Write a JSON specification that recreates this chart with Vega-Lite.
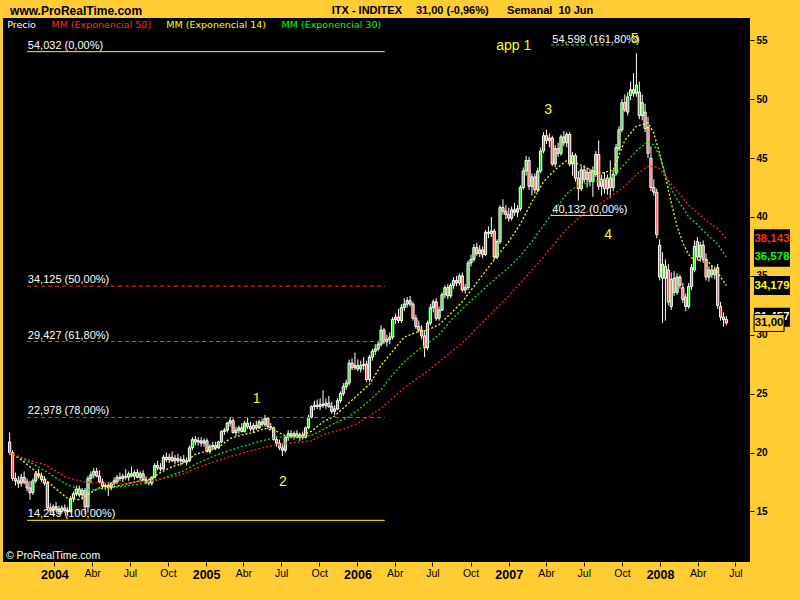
{
"$schema": "https://vega.github.io/schema/vega-lite/v6.json",
"width": 747, "height": 544,
"autosize": {"type": "none"},
"padding": {"left": 3, "top": 18, "right": 50, "bottom": 38},
"background": "#FFCC33",
"config": {"view": {"fill": "black", "stroke": null}, "font": "Liberation Sans"},
"datasets": {
"candles": [
{"d":"2003-09-15","o":20.9,"h":21.7,"l":19.8,"c":20.0},
{"d":"2003-09-22","o":20.0,"h":20.2,"l":17.6,"c":17.8},
{"d":"2003-09-29","o":17.8,"h":18.3,"l":17.2,"c":17.6},
{"d":"2003-10-06","o":17.6,"h":18.0,"l":17.0,"c":17.4},
{"d":"2003-10-13","o":17.4,"h":18.2,"l":17.1,"c":17.9},
{"d":"2003-10-20","o":17.9,"h":18.4,"l":17.3,"c":17.5},
{"d":"2003-10-27","o":17.5,"h":17.8,"l":16.7,"c":17.0},
{"d":"2003-11-03","o":17.0,"h":17.6,"l":16.0,"c":16.6},
{"d":"2003-11-10","o":16.6,"h":17.8,"l":16.4,"c":17.6},
{"d":"2003-11-17","o":17.6,"h":18.4,"l":17.4,"c":18.2},
{"d":"2003-11-24","o":18.2,"h":18.6,"l":17.8,"c":18.0},
{"d":"2003-12-01","o":18.0,"h":18.3,"l":17.5,"c":17.7},
{"d":"2003-12-08","o":17.7,"h":18.0,"l":17.2,"c":17.4},
{"d":"2003-12-15","o":17.4,"h":17.6,"l":15.1,"c":15.3},
{"d":"2003-12-22","o":15.3,"h":15.7,"l":14.9,"c":15.1},
{"d":"2003-12-29","o":15.1,"h":15.6,"l":14.8,"c":15.4},
{"d":"2004-01-05","o":15.4,"h":15.8,"l":15.0,"c":15.2},
{"d":"2004-01-12","o":15.2,"h":15.5,"l":14.7,"c":15.0},
{"d":"2004-01-19","o":15.0,"h":15.5,"l":14.8,"c":15.3},
{"d":"2004-01-26","o":15.3,"h":15.6,"l":14.9,"c":15.1},
{"d":"2004-02-02","o":15.1,"h":15.4,"l":14.6,"c":15.0},
{"d":"2004-02-09","o":15.0,"h":16.3,"l":14.9,"c":16.1},
{"d":"2004-02-16","o":16.1,"h":16.7,"l":15.8,"c":16.5},
{"d":"2004-02-23","o":16.5,"h":17.2,"l":16.3,"c":16.9},
{"d":"2004-03-01","o":16.9,"h":17.2,"l":16.2,"c":16.4},
{"d":"2004-03-08","o":16.4,"h":17.0,"l":16.0,"c":16.8},
{"d":"2004-03-15","o":16.8,"h":17.0,"l":14.8,"c":15.4},
{"d":"2004-03-22","o":15.4,"h":18.0,"l":14.9,"c":17.8},
{"d":"2004-03-29","o":17.8,"h":18.4,"l":17.4,"c":18.1},
{"d":"2004-04-05","o":18.1,"h":18.7,"l":17.8,"c":18.4},
{"d":"2004-04-12","o":18.4,"h":18.7,"l":17.9,"c":18.0},
{"d":"2004-04-19","o":18.0,"h":18.5,"l":17.4,"c":17.5},
{"d":"2004-04-26","o":17.5,"h":17.8,"l":16.9,"c":17.1},
{"d":"2004-05-03","o":17.1,"h":17.4,"l":16.8,"c":17.2},
{"d":"2004-05-10","o":17.2,"h":17.5,"l":16.3,"c":17.0},
{"d":"2004-05-17","o":17.0,"h":17.5,"l":16.8,"c":17.4},
{"d":"2004-05-24","o":17.4,"h":17.9,"l":17.2,"c":17.6},
{"d":"2004-05-31","o":17.5,"h":18.1,"l":17.3,"c":17.9},
{"d":"2004-06-07","o":17.9,"h":18.3,"l":17.6,"c":17.8},
{"d":"2004-06-14","o":17.8,"h":18.2,"l":17.5,"c":18.0},
{"d":"2004-06-21","o":18.0,"h":18.6,"l":17.7,"c":17.9},
{"d":"2004-06-28","o":17.9,"h":18.4,"l":17.6,"c":18.2},
{"d":"2004-07-05","o":18.2,"h":18.8,"l":17.9,"c":18.0},
{"d":"2004-07-12","o":18.0,"h":18.5,"l":17.7,"c":18.3},
{"d":"2004-07-19","o":18.3,"h":18.6,"l":17.8,"c":17.9},
{"d":"2004-07-26","o":17.9,"h":18.4,"l":17.6,"c":18.2},
{"d":"2004-08-02","o":18.2,"h":18.5,"l":17.6,"c":17.7},
{"d":"2004-08-09","o":17.7,"h":18.0,"l":17.3,"c":17.5},
{"d":"2004-08-16","o":17.5,"h":17.8,"l":17.2,"c":17.4},
{"d":"2004-08-23","o":17.4,"h":18.0,"l":17.2,"c":17.9},
{"d":"2004-08-30","o":17.9,"h":19.1,"l":17.8,"c":18.9},
{"d":"2004-09-06","o":18.9,"h":19.3,"l":18.5,"c":18.7},
{"d":"2004-09-13","o":18.7,"h":19.1,"l":18.4,"c":18.6},
{"d":"2004-09-20","o":18.6,"h":19.8,"l":18.5,"c":19.6},
{"d":"2004-09-27","o":19.6,"h":20.0,"l":19.2,"c":19.4},
{"d":"2004-10-04","o":19.4,"h":19.9,"l":19.1,"c":19.6},
{"d":"2004-10-11","o":19.6,"h":20.1,"l":19.2,"c":19.3},
{"d":"2004-10-18","o":19.3,"h":19.8,"l":19.0,"c":19.5},
{"d":"2004-10-25","o":19.5,"h":19.9,"l":19.1,"c":19.3},
{"d":"2004-11-01","o":19.3,"h":19.7,"l":18.9,"c":19.4},
{"d":"2004-11-08","o":19.4,"h":19.8,"l":19.1,"c":19.2},
{"d":"2004-11-15","o":19.2,"h":19.6,"l":18.9,"c":19.3},
{"d":"2004-11-22","o":19.3,"h":20.6,"l":19.2,"c":20.4},
{"d":"2004-11-29","o":20.4,"h":21.3,"l":20.2,"c":21.1},
{"d":"2004-12-06","o":21.1,"h":21.4,"l":20.6,"c":20.9},
{"d":"2004-12-13","o":20.9,"h":21.3,"l":20.6,"c":21.0},
{"d":"2004-12-20","o":21.0,"h":21.3,"l":20.5,"c":20.8},
{"d":"2004-12-27","o":20.8,"h":21.2,"l":20.5,"c":21.0},
{"d":"2005-01-03","o":21.0,"h":21.2,"l":20.0,"c":20.1},
{"d":"2005-01-10","o":20.1,"h":20.7,"l":19.9,"c":20.5},
{"d":"2005-01-17","o":20.5,"h":20.9,"l":20.2,"c":20.6},
{"d":"2005-01-24","o":20.6,"h":20.9,"l":20.2,"c":20.4},
{"d":"2005-01-31","o":20.4,"h":21.0,"l":20.3,"c":20.9},
{"d":"2005-02-07","o":20.9,"h":21.9,"l":20.8,"c":21.8},
{"d":"2005-02-14","o":21.8,"h":22.1,"l":21.5,"c":21.9},
{"d":"2005-02-21","o":21.9,"h":22.6,"l":21.7,"c":22.5},
{"d":"2005-02-28","o":22.5,"h":23.0,"l":22.2,"c":22.7},
{"d":"2005-03-07","o":22.7,"h":22.9,"l":21.6,"c":21.7},
{"d":"2005-03-14","o":21.7,"h":22.2,"l":21.4,"c":21.9},
{"d":"2005-03-21","o":21.9,"h":22.3,"l":21.6,"c":22.1},
{"d":"2005-03-28","o":22.1,"h":22.5,"l":21.7,"c":21.8},
{"d":"2005-04-04","o":21.8,"h":22.7,"l":21.7,"c":22.5},
{"d":"2005-04-11","o":22.5,"h":23.0,"l":22.0,"c":22.2},
{"d":"2005-04-18","o":22.2,"h":22.6,"l":21.8,"c":22.0},
{"d":"2005-04-25","o":22.0,"h":22.5,"l":21.7,"c":22.3},
{"d":"2005-05-02","o":22.3,"h":22.7,"l":21.9,"c":22.1},
{"d":"2005-05-09","o":22.1,"h":22.8,"l":22.0,"c":22.6},
{"d":"2005-05-16","o":22.6,"h":22.9,"l":22.2,"c":22.4},
{"d":"2005-05-23","o":22.4,"h":23.2,"l":22.2,"c":22.9},
{"d":"2005-05-30","o":22.9,"h":23.0,"l":22.0,"c":22.2},
{"d":"2005-06-06","o":22.2,"h":22.5,"l":21.9,"c":22.1},
{"d":"2005-06-13","o":22.1,"h":22.2,"l":21.0,"c":21.1},
{"d":"2005-06-20","o":21.1,"h":21.4,"l":20.5,"c":20.8},
{"d":"2005-06-27","o":20.8,"h":21.1,"l":20.2,"c":20.4},
{"d":"2005-07-04","o":20.4,"h":20.8,"l":19.7,"c":20.2},
{"d":"2005-07-11","o":20.2,"h":21.4,"l":20.0,"c":21.3},
{"d":"2005-07-18","o":21.3,"h":21.9,"l":21.0,"c":21.6},
{"d":"2005-07-25","o":21.6,"h":21.9,"l":21.2,"c":21.4},
{"d":"2005-08-01","o":21.4,"h":21.8,"l":21.1,"c":21.6},
{"d":"2005-08-08","o":21.6,"h":21.9,"l":21.2,"c":21.3},
{"d":"2005-08-15","o":21.3,"h":21.7,"l":21.0,"c":21.5},
{"d":"2005-08-22","o":21.5,"h":21.8,"l":21.1,"c":21.3},
{"d":"2005-08-29","o":21.3,"h":22.2,"l":21.2,"c":22.1},
{"d":"2005-09-05","o":22.1,"h":23.2,"l":22.0,"c":23.0},
{"d":"2005-09-12","o":23.0,"h":24.0,"l":22.9,"c":23.9},
{"d":"2005-09-19","o":23.9,"h":24.4,"l":23.6,"c":24.0},
{"d":"2005-09-26","o":24.0,"h":24.5,"l":23.7,"c":23.9},
{"d":"2005-10-03","o":23.9,"h":24.6,"l":23.6,"c":24.1},
{"d":"2005-10-10","o":24.1,"h":25.3,"l":23.8,"c":24.0},
{"d":"2005-10-17","o":24.0,"h":24.6,"l":23.7,"c":24.2},
{"d":"2005-10-24","o":24.2,"h":24.8,"l":23.8,"c":23.9},
{"d":"2005-10-31","o":23.9,"h":24.3,"l":23.3,"c":23.5},
{"d":"2005-11-07","o":23.5,"h":24.0,"l":23.2,"c":23.7},
{"d":"2005-11-14","o":23.7,"h":24.6,"l":23.6,"c":24.4},
{"d":"2005-11-21","o":24.4,"h":25.2,"l":24.2,"c":25.0},
{"d":"2005-11-28","o":25.0,"h":25.9,"l":24.8,"c":25.6},
{"d":"2005-12-05","o":25.6,"h":26.2,"l":25.3,"c":25.9},
{"d":"2005-12-12","o":25.9,"h":27.9,"l":25.7,"c":27.6},
{"d":"2005-12-19","o":27.6,"h":28.0,"l":27.0,"c":27.2},
{"d":"2005-12-26","o":27.2,"h":28.5,"l":27.0,"c":27.4},
{"d":"2006-01-02","o":27.4,"h":27.9,"l":26.9,"c":27.1},
{"d":"2006-01-09","o":27.1,"h":27.8,"l":26.8,"c":27.4},
{"d":"2006-01-16","o":27.4,"h":28.1,"l":27.0,"c":27.5},
{"d":"2006-01-23","o":27.5,"h":27.8,"l":26.0,"c":26.2},
{"d":"2006-01-30","o":26.2,"h":28.3,"l":26.0,"c":28.1},
{"d":"2006-02-06","o":28.1,"h":28.8,"l":27.8,"c":28.6},
{"d":"2006-02-13","o":28.6,"h":29.2,"l":28.3,"c":28.8},
{"d":"2006-02-20","o":28.8,"h":29.5,"l":28.6,"c":29.2},
{"d":"2006-02-27","o":29.2,"h":30.8,"l":29.0,"c":30.4},
{"d":"2006-03-06","o":30.4,"h":30.6,"l":29.2,"c":29.4},
{"d":"2006-03-13","o":29.4,"h":30.0,"l":29.0,"c":29.6},
{"d":"2006-03-20","o":29.6,"h":30.2,"l":29.2,"c":29.8},
{"d":"2006-03-27","o":29.8,"h":31.5,"l":29.6,"c":31.3},
{"d":"2006-04-03","o":31.3,"h":31.8,"l":30.9,"c":31.5},
{"d":"2006-04-10","o":31.5,"h":32.2,"l":31.0,"c":31.2},
{"d":"2006-04-17","o":31.2,"h":32.6,"l":31.0,"c":32.3},
{"d":"2006-04-24","o":32.3,"h":33.1,"l":32.0,"c":32.6},
{"d":"2006-05-01","o":32.6,"h":33.2,"l":32.3,"c":32.9},
{"d":"2006-05-08","o":32.9,"h":33.3,"l":32.4,"c":32.6},
{"d":"2006-05-15","o":32.6,"h":32.8,"l":31.2,"c":31.4},
{"d":"2006-05-22","o":31.4,"h":31.7,"l":30.5,"c":30.7},
{"d":"2006-05-29","o":30.7,"h":31.2,"l":30.2,"c":30.4},
{"d":"2006-06-05","o":30.4,"h":30.8,"l":29.6,"c":29.9},
{"d":"2006-06-12","o":29.9,"h":30.3,"l":28.1,"c":28.9},
{"d":"2006-06-19","o":28.9,"h":31.2,"l":28.7,"c":31.0},
{"d":"2006-06-26","o":31.0,"h":32.6,"l":30.8,"c":32.3},
{"d":"2006-07-03","o":32.3,"h":33.0,"l":31.9,"c":32.8},
{"d":"2006-07-10","o":32.8,"h":33.1,"l":31.2,"c":31.4},
{"d":"2006-07-17","o":31.4,"h":32.4,"l":31.2,"c":32.1},
{"d":"2006-07-24","o":32.1,"h":33.6,"l":32.0,"c":33.4},
{"d":"2006-07-31","o":33.4,"h":34.2,"l":33.1,"c":34.0},
{"d":"2006-08-07","o":34.0,"h":34.3,"l":33.0,"c":33.3},
{"d":"2006-08-14","o":33.3,"h":34.4,"l":33.1,"c":34.2},
{"d":"2006-08-21","o":34.2,"h":34.9,"l":33.9,"c":34.6},
{"d":"2006-08-28","o":34.6,"h":35.0,"l":34.1,"c":34.4},
{"d":"2006-09-04","o":34.4,"h":35.2,"l":34.2,"c":35.0},
{"d":"2006-09-11","o":35.0,"h":35.3,"l":33.6,"c":33.8},
{"d":"2006-09-18","o":33.8,"h":34.3,"l":33.5,"c":34.0},
{"d":"2006-09-25","o":34.0,"h":36.3,"l":33.8,"c":36.1},
{"d":"2006-10-02","o":36.1,"h":36.8,"l":35.8,"c":36.4},
{"d":"2006-10-09","o":36.4,"h":37.7,"l":36.2,"c":37.4},
{"d":"2006-10-16","o":37.4,"h":37.8,"l":36.7,"c":36.9},
{"d":"2006-10-23","o":36.9,"h":37.6,"l":36.6,"c":37.2},
{"d":"2006-10-30","o":37.2,"h":37.5,"l":36.5,"c":36.8},
{"d":"2006-11-06","o":36.8,"h":38.9,"l":36.7,"c":38.7},
{"d":"2006-11-13","o":38.7,"h":39.2,"l":38.2,"c":38.6},
{"d":"2006-11-20","o":38.6,"h":40.0,"l":38.3,"c":38.8},
{"d":"2006-11-27","o":38.8,"h":39.0,"l":36.4,"c":36.6},
{"d":"2006-12-04","o":36.6,"h":38.1,"l":36.4,"c":37.9},
{"d":"2006-12-11","o":37.9,"h":41.0,"l":37.7,"c":40.8},
{"d":"2006-12-18","o":40.8,"h":41.5,"l":40.2,"c":40.5},
{"d":"2006-12-25","o":40.5,"h":41.0,"l":39.8,"c":40.2},
{"d":"2007-01-01","o":40.2,"h":40.8,"l":39.6,"c":39.9},
{"d":"2007-01-08","o":39.9,"h":40.9,"l":39.7,"c":40.6},
{"d":"2007-01-15","o":40.6,"h":41.2,"l":40.1,"c":40.4},
{"d":"2007-01-22","o":40.4,"h":41.0,"l":40.0,"c":40.7},
{"d":"2007-01-29","o":40.7,"h":42.7,"l":40.5,"c":42.5},
{"d":"2007-02-05","o":42.5,"h":44.2,"l":42.3,"c":43.9},
{"d":"2007-02-12","o":43.9,"h":45.2,"l":43.5,"c":44.8},
{"d":"2007-02-19","o":44.8,"h":45.1,"l":42.3,"c":42.6},
{"d":"2007-02-26","o":42.6,"h":43.7,"l":41.8,"c":43.4},
{"d":"2007-03-05","o":43.4,"h":43.7,"l":42.0,"c":42.3},
{"d":"2007-03-12","o":42.3,"h":44.2,"l":42.1,"c":43.9},
{"d":"2007-03-19","o":43.9,"h":45.9,"l":43.7,"c":45.6},
{"d":"2007-03-26","o":45.6,"h":47.2,"l":45.4,"c":46.9},
{"d":"2007-04-02","o":46.9,"h":47.4,"l":46.2,"c":46.5},
{"d":"2007-04-09","o":46.5,"h":47.1,"l":45.9,"c":46.7},
{"d":"2007-04-16","o":46.7,"h":46.9,"l":44.3,"c":44.5},
{"d":"2007-04-23","o":44.5,"h":46.1,"l":44.2,"c":45.8},
{"d":"2007-04-30","o":45.8,"h":46.3,"l":45.1,"c":45.4},
{"d":"2007-05-07","o":45.4,"h":47.0,"l":45.2,"c":46.8},
{"d":"2007-05-14","o":46.8,"h":47.3,"l":46.0,"c":46.3},
{"d":"2007-05-21","o":46.3,"h":47.2,"l":45.9,"c":47.0},
{"d":"2007-05-28","o":47.0,"h":47.2,"l":44.3,"c":44.5},
{"d":"2007-06-04","o":44.5,"h":45.5,"l":43.5,"c":45.2},
{"d":"2007-06-11","o":45.2,"h":45.4,"l":43.0,"c":43.3},
{"d":"2007-06-18","o":43.3,"h":43.9,"l":41.4,"c":42.4},
{"d":"2007-06-25","o":42.4,"h":44.3,"l":42.2,"c":44.0},
{"d":"2007-07-02","o":44.0,"h":44.4,"l":42.9,"c":43.2},
{"d":"2007-07-09","o":43.2,"h":44.2,"l":42.5,"c":43.8},
{"d":"2007-07-16","o":43.8,"h":44.1,"l":42.6,"c":43.0},
{"d":"2007-07-23","o":43.0,"h":44.3,"l":41.7,"c":43.9},
{"d":"2007-07-30","o":43.6,"h":45.6,"l":43.4,"c":45.3},
{"d":"2007-08-06","o":45.3,"h":46.5,"l":42.3,"c":42.6},
{"d":"2007-08-13","o":42.6,"h":43.6,"l":41.8,"c":43.2},
{"d":"2007-08-20","o":43.2,"h":43.8,"l":42.0,"c":42.4},
{"d":"2007-08-27","o":42.4,"h":43.6,"l":41.9,"c":43.3},
{"d":"2007-09-03","o":43.3,"h":44.8,"l":41.6,"c":42.5},
{"d":"2007-09-10","o":42.5,"h":44.0,"l":42.2,"c":43.6},
{"d":"2007-09-17","o":43.7,"h":46.2,"l":43.5,"c":45.9},
{"d":"2007-09-24","o":45.8,"h":47.7,"l":45.6,"c":47.4},
{"d":"2007-10-01","o":47.4,"h":50.0,"l":47.2,"c":49.7},
{"d":"2007-10-08","o":49.7,"h":50.4,"l":48.9,"c":49.1},
{"d":"2007-10-15","o":48.9,"h":50.6,"l":48.6,"c":50.2},
{"d":"2007-10-22","o":50.3,"h":51.5,"l":49.9,"c":50.8},
{"d":"2007-10-29","o":50.8,"h":52.2,"l":50.2,"c":50.5},
{"d":"2007-11-05","o":50.5,"h":53.9,"l":50.2,"c":51.2},
{"d":"2007-11-12","o":50.6,"h":51.5,"l":48.3,"c":48.6},
{"d":"2007-11-19","o":48.6,"h":50.4,"l":48.2,"c":49.7},
{"d":"2007-11-26","o":48.9,"h":49.6,"l":47.2,"c":47.5},
{"d":"2007-12-03","o":47.6,"h":48.5,"l":45.0,"c":45.4},
{"d":"2007-12-10","o":45.0,"h":46.0,"l":42.2,"c":42.5},
{"d":"2007-12-17","o":42.5,"h":43.2,"l":41.8,"c":42.1},
{"d":"2007-12-24","o":42.1,"h":42.4,"l":38.2,"c":38.5},
{"d":"2007-12-31","o":37.6,"h":38.1,"l":34.6,"c":34.9},
{"d":"2008-01-07","o":34.8,"h":37.0,"l":31.0,"c":36.0},
{"d":"2008-01-14","o":35.8,"h":36.4,"l":31.2,"c":34.8},
{"d":"2008-01-21","o":35.5,"h":36.0,"l":32.5,"c":32.8},
{"d":"2008-01-28","o":32.4,"h":35.3,"l":32.1,"c":34.7},
{"d":"2008-02-04","o":34.8,"h":35.4,"l":33.3,"c":33.6},
{"d":"2008-02-11","o":33.6,"h":35.2,"l":33.4,"c":34.9},
{"d":"2008-02-18","o":34.9,"h":35.1,"l":33.9,"c":34.2},
{"d":"2008-02-25","o":34.0,"h":34.4,"l":32.7,"c":33.0},
{"d":"2008-03-03","o":33.2,"h":33.5,"l":32.0,"c":32.4},
{"d":"2008-03-10","o":32.4,"h":34.4,"l":32.2,"c":34.1},
{"d":"2008-03-17","o":34.1,"h":36.0,"l":33.8,"c":35.7},
{"d":"2008-03-24","o":35.5,"h":38.0,"l":35.3,"c":37.5},
{"d":"2008-03-31","o":37.9,"h":38.3,"l":36.3,"c":36.6},
{"d":"2008-04-07","o":36.6,"h":37.9,"l":36.2,"c":37.6},
{"d":"2008-04-14","o":37.6,"h":38.0,"l":36.1,"c":36.4},
{"d":"2008-04-21","o":36.4,"h":36.9,"l":34.6,"c":34.9},
{"d":"2008-04-28","o":34.9,"h":35.8,"l":34.5,"c":35.5},
{"d":"2008-05-05","o":35.5,"h":35.9,"l":34.8,"c":35.1},
{"d":"2008-05-12","o":35.1,"h":35.8,"l":34.7,"c":35.5},
{"d":"2008-05-19","o":35.7,"h":36.0,"l":32.2,"c":32.5},
{"d":"2008-05-26","o":32.4,"h":32.8,"l":31.2,"c":31.5},
{"d":"2008-06-02","o":31.5,"h":31.9,"l":30.7,"c":31.3},
{"d":"2008-06-09","o":31.3,"h":31.6,"l":30.8,"c":31.0}
],
"ema": [
{"d":"2003-09-15","e14":20.0,"e30":20.0,"e50":20.0},
{"d":"2003-10-13","e14":19.4,"e30":19.5,"e50":19.6},
{"d":"2003-11-10","e14":18.6,"e30":19.05,"e50":19.25},
{"d":"2003-12-08","e14":17.8,"e30":18.5,"e50":19.0},
{"d":"2004-01-05","e14":16.9,"e30":17.85,"e50":18.4},
{"d":"2004-02-02","e14":16.1,"e30":17.25,"e50":17.85},
{"d":"2004-03-01","e14":16.0,"e30":16.9,"e50":17.6},
{"d":"2004-03-29","e14":16.6,"e30":16.8,"e50":17.45},
{"d":"2004-04-26","e14":17.15,"e30":16.95,"e50":17.4},
{"d":"2004-05-24","e14":17.1,"e30":17.05,"e50":17.4},
{"d":"2004-06-21","e14":17.3,"e30":17.15,"e50":17.4},
{"d":"2004-07-19","e14":17.55,"e30":17.3,"e50":17.5},
{"d":"2004-08-16","e14":17.7,"e30":17.45,"e50":17.55},
{"d":"2004-09-13","e14":18.3,"e30":17.75,"e50":17.75},
{"d":"2004-10-11","e14":18.8,"e30":18.1,"e50":17.95},
{"d":"2004-11-08","e14":19.1,"e30":18.45,"e50":18.2},
{"d":"2004-12-06","e14":19.85,"e30":19.0,"e50":18.65},
{"d":"2005-01-03","e14":20.15,"e30":19.45,"e50":19.0},
{"d":"2005-01-31","e14":20.45,"e30":19.85,"e50":19.35},
{"d":"2005-02-28","e14":21.2,"e30":20.2,"e50":19.65},
{"d":"2005-03-28","e14":21.5,"e30":20.5,"e50":19.95},
{"d":"2005-04-25","e14":21.7,"e30":20.8,"e50":20.2},
{"d":"2005-05-23","e14":22.05,"e30":21.05,"e50":20.45},
{"d":"2005-06-20","e14":21.8,"e30":21.3,"e50":20.65},
{"d":"2005-07-18","e14":21.3,"e30":21.35,"e50":20.8},
{"d":"2005-08-15","e14":21.4,"e30":21.35,"e50":20.9},
{"d":"2005-09-12","e14":21.8,"e30":21.45,"e50":21.0},
{"d":"2005-10-10","e14":22.6,"e30":21.95,"e50":21.5},
{"d":"2005-11-07","e14":23.1,"e30":22.5,"e50":21.8},
{"d":"2005-12-05","e14":24.0,"e30":22.9,"e50":22.05},
{"d":"2006-01-02","e14":24.9,"e30":23.6,"e50":22.5},
{"d":"2006-01-30","e14":25.8,"e30":24.4,"e50":23.1},
{"d":"2006-02-27","e14":27.4,"e30":25.35,"e50":23.75},
{"d":"2006-03-27","e14":28.6,"e30":26.6,"e50":24.6},
{"d":"2006-04-24","e14":29.8,"e30":27.7,"e50":25.5},
{"d":"2006-05-22","e14":30.2,"e30":28.55,"e50":26.2},
{"d":"2006-06-19","e14":30.4,"e30":29.25,"e50":26.9},
{"d":"2006-07-17","e14":30.85,"e30":30.0,"e50":27.7},
{"d":"2006-08-14","e14":31.8,"e30":31.2,"e50":28.5},
{"d":"2006-09-11","e14":32.8,"e30":32.2,"e50":29.3},
{"d":"2006-10-09","e14":34.1,"e30":33.1,"e50":30.3},
{"d":"2006-11-06","e14":35.4,"e30":34.0,"e50":31.3},
{"d":"2006-12-04","e14":36.7,"e30":34.9,"e50":32.3},
{"d":"2007-01-01","e14":37.9,"e30":35.7,"e50":33.3},
{"d":"2007-01-29","e14":39.4,"e30":36.7,"e50":34.4},
{"d":"2007-02-26","e14":41.3,"e30":37.9,"e50":35.5},
{"d":"2007-03-26","e14":43.0,"e30":39.3,"e50":36.6},
{"d":"2007-04-23","e14":44.0,"e30":40.6,"e50":37.8},
{"d":"2007-05-21","e14":44.8,"e30":42.0,"e50":39.0},
{"d":"2007-06-18","e14":44.5,"e30":42.7,"e50":39.9},
{"d":"2007-07-16","e14":44.0,"e30":42.9,"e50":40.6},
{"d":"2007-08-13","e14":43.7,"e30":43.1,"e50":41.2},
{"d":"2007-09-10","e14":44.0,"e30":43.4,"e50":41.9},
{"d":"2007-10-08","e14":46.5,"e30":44.5,"e50":42.6},
{"d":"2007-11-05","e14":47.7,"e30":45.6,"e50":43.6},
{"d":"2007-12-03","e14":48.0,"e30":46.4,"e50":44.3},
{"d":"2007-12-17","e14":47.1,"e30":46.1,"e50":44.3},
{"d":"2007-12-31","e14":45.4,"e30":45.2,"e50":44.1},
{"d":"2008-01-14","e14":43.4,"e30":43.6,"e50":43.4},
{"d":"2008-01-28","e14":41.2,"e30":42.4,"e50":42.8},
{"d":"2008-02-11","e14":39.2,"e30":41.5,"e50":42.2},
{"d":"2008-02-25","e14":37.8,"e30":40.8,"e50":41.6},
{"d":"2008-03-10","e14":36.8,"e30":40.0,"e50":41.0},
{"d":"2008-03-24","e14":36.3,"e30":39.6,"e50":40.6},
{"d":"2008-04-21","e14":36.4,"e30":38.6,"e50":39.7},
{"d":"2008-05-19","e14":35.3,"e30":37.7,"e50":39.0},
{"d":"2008-06-09","e14":34.179,"e30":36.578,"e50":38.143}
],
"fib": [
{"v":54.032,"t":"54,032 (0,00%)","g":"end"},
{"v":34.125,"t":"34,125 (50,00%)","g":"mid"},
{"v":29.427,"t":"29,427 (61,80%)","g":"mid"},
{"v":22.978,"t":"22,978 (78,00%)","g":"mid"},
{"v":14.249,"t":"14,249 (100,00%)","g":"end"}
],
"fib2": [
{"v":40.132,"t":"40,132 (0,00%)","g":"base"},
{"v":54.598,"t":"54,598 (161,80%)","g":"ext"}
],
"waves": [
{"d":"2005-05-03","v":24.21,"t":"1"},
{"d":"2005-07-05","v":17.17,"t":"2"},
{"d":"2007-04-06","v":48.74,"t":"3"},
{"d":"2007-08-29","v":38.13,"t":"4"},
{"d":"2007-11-01","v":54.77,"t":"5"},
{"d":"2007-01-13","v":54.18,"t":"app 1"}
],
"tags": [
{"v":38.143,"t":"38,143","k":"e50"},
{"v":36.578,"t":"36,578","k":"e30"},
{"v":34.179,"t":"34,179","k":"e14"},
{"v":31.49,"t":"31,457","k":"otro"}
]
},
"layer": [
{"data": {"name": "candles"},
 "mark": {"type": "rule", "color": "white", "strokeWidth": 1},
 "encoding": {
  "x": {"field": "d", "type": "temporal",
   "scale": {"domain": [{"year": 2003, "month": 8, "date": 30}, {"year": 2008, "month": 8, "date": 5}], "padding": 0},
   "axis": {"orient": "bottom", "title": null, "grid": false, "domain": false,
    "values": [{"year":2004,"month":1,"date":1},{"year":2004,"month":4,"date":1},{"year":2004,"month":7,"date":1},{"year":2004,"month":10,"date":1},
               {"year":2005,"month":1,"date":1},{"year":2005,"month":4,"date":1},{"year":2005,"month":7,"date":1},{"year":2005,"month":10,"date":1},
               {"year":2006,"month":1,"date":1},{"year":2006,"month":4,"date":1},{"year":2006,"month":7,"date":1},{"year":2006,"month":10,"date":1},
               {"year":2007,"month":1,"date":1},{"year":2007,"month":4,"date":1},{"year":2007,"month":7,"date":1},{"year":2007,"month":10,"date":1},
               {"year":2008,"month":1,"date":1},{"year":2008,"month":4,"date":1},{"year":2008,"month":7,"date":1}],
    "labelExpr": "month(datum.value) == 0 ? timeFormat(datum.value, '%Y') : (month(datum.value) == 3 ? 'Abr' : (month(datum.value) == 6 ? 'Jul' : 'Oct'))",
    "labelFontWeight": {"condition": {"test": "month(datum.value) == 0", "value": "bold"}, "value": "normal"},
    "labelFontSize": {"condition": {"test": "month(datum.value) == 0", "value": 12.5}, "value": 10.5},
    "labelColor": "black", "tickColor": "black", "tickSize": 4, "labelPadding": 2,
    "labelOverlap": false, "labelFlush": false, "labelFont": "Liberation Sans"}},
  "y": {"field": "l", "type": "quantitative",
   "scale": {"domain": [10.71, 56.89], "zero": false, "nice": false, "padding": 0},
   "axis": {"orient": "right", "title": null, "grid": false, "domain": false,
    "values": [15, 20, 25, 30, 35, 40, 45, 50, 55],
    "labelColor": "black", "tickColor": "black", "tickSize": 4, "labelPadding": 2,
    "labelFontWeight": "bold", "labelFontSize": 10, "labelFont": "Liberation Sans"}},
  "y2": {"field": "h"}
 }},
{"data": {"name": "candles"},
 "mark": {"type": "bar", "size": 2.2, "stroke": "white", "strokeWidth": 1, "opacity": 1},
 "encoding": {
  "x": {"field": "d", "type": "temporal"},
  "y": {"field": "o", "type": "quantitative"},
  "y2": {"field": "c"},
  "fill": {"condition": {"test": "datum.c >= datum.o", "value": "#22dd22"}, "value": "#ff5555"}
 }},
{"data": {"name": "ema"},
 "transform": [{"fold": ["e14", "e30", "e50"], "as": ["k", "v"]}],
 "mark": {"type": "line", "strokeWidth": 1.3, "strokeDash": [2, 2]},
 "encoding": {
  "x": {"field": "d", "type": "temporal"},
  "y": {"field": "v", "type": "quantitative"},
  "color": {"field": "k", "type": "nominal", "legend": null,
   "scale": {"domain": ["e14", "e30", "e50"], "range": ["#ffff00", "#00ee00", "#ff2a00"]}}
 }},
{"data": {"name": "fib"},
 "transform": [{"filter": "datum.g == 'end'"}],
 "mark": {"type": "rule", "color": "#ffff00", "strokeWidth": 1},
 "encoding": {
  "x": {"datum": {"year": 2003, "month": 10, "date": 27}, "type": "temporal"},
  "x2": {"datum": {"year": 2006, "month": 3, "date": 8}},
  "y": {"field": "v", "type": "quantitative"}
 }},
{"data": {"name": "fib"},
 "transform": [{"filter": "datum.g == 'mid'"}],
 "mark": {"type": "rule", "color": "#ff3030", "strokeWidth": 1, "strokeDash": [4, 3]},
 "encoding": {
  "x": {"datum": {"year": 2003, "month": 10, "date": 27}, "type": "temporal"},
  "x2": {"datum": {"year": 2006, "month": 3, "date": 8}},
  "y": {"field": "v", "type": "quantitative"}
 }},
{"data": {"name": "fib"},
 "mark": {"type": "text", "color": "white", "fontSize": 11, "align": "left", "baseline": "alphabetic", "dy": -3},
 "encoding": {
  "x": {"datum": {"year": 2003, "month": 10, "date": 29}, "type": "temporal"},
  "y": {"field": "v", "type": "quantitative"},
  "text": {"field": "t"}
 }},
{"data": {"name": "fib2"},
 "transform": [{"filter": "datum.g == 'base'"}],
 "mark": {"type": "rule", "color": "#ffff00", "strokeWidth": 1},
 "encoding": {
  "x": {"datum": {"year": 2007, "month": 4, "date": 13}, "type": "temporal"},
  "x2": {"datum": {"year": 2007, "month": 9, "date": 9}},
  "y": {"field": "v", "type": "quantitative"}
 }},
{"data": {"name": "fib2"},
 "transform": [{"filter": "datum.g == 'ext'"}],
 "mark": {"type": "rule", "color": "#55dd55", "strokeWidth": 1, "strokeDash": [3, 2]},
 "encoding": {
  "x": {"datum": {"year": 2007, "month": 4, "date": 13}, "type": "temporal"},
  "x2": {"datum": {"year": 2007, "month": 9, "date": 8}},
  "y": {"field": "v", "type": "quantitative"}
 }},
{"data": {"name": "fib2"},
 "mark": {"type": "text", "color": "white", "fontSize": 11, "align": "left", "baseline": "alphabetic", "dy": -2},
 "encoding": {
  "x": {"datum": {"year": 2007, "month": 4, "date": 16}, "type": "temporal"},
  "y": {"field": "v", "type": "quantitative"},
  "text": {"field": "t"}
 }},
{"data": {"name": "waves"},
 "mark": {"type": "text", "color": "#ffff00", "fontSize": 14, "align": "center", "baseline": "alphabetic"},
 "encoding": {
  "x": {"field": "d", "type": "temporal"},
  "y": {"field": "v", "type": "quantitative"},
  "text": {"field": "t"}
 }},
{"data": {"name": "tags"},
 "mark": {"type": "tick", "orient": "horizontal", "size": 36, "thickness": 19, "color": "black", "opacity": 1},
 "encoding": {
  "x": {"datum": {"year": 2008, "month": 9, "date": 27}, "type": "temporal"},
  "y": {"field": "v", "type": "quantitative"}
 }},
{"data": {"name": "tags"},
 "mark": {"type": "text", "fontSize": 11.5, "fontWeight": "bold", "align": "center", "baseline": "middle"},
 "encoding": {
  "x": {"datum": {"year": 2008, "month": 9, "date": 27}, "type": "temporal"},
  "y": {"field": "v", "type": "quantitative"},
  "text": {"field": "t"},
  "fill": {"field": "k", "type": "nominal", "legend": null,
   "scale": {"domain": ["e50", "e30", "e14", "otro"], "range": ["#ff3300", "#00ff00", "#ffff00", "#ffffff"]}}
 }},
{"data": {"values": [{"v": 31.0, "t": "31,00"}]},
 "mark": {"type": "tick", "orient": "horizontal", "size": 30, "thickness": 17, "color": "#ffcc33", "stroke": "black", "strokeWidth": 1, "opacity": 1},
 "encoding": {
  "x": {"datum": {"year": 2008, "month": 9, "date": 20}, "type": "temporal"},
  "y": {"field": "v", "type": "quantitative"}
 }},
{"data": {"values": [{"v": 31.0, "t": "31,00"}]},
 "mark": {"type": "text", "fontSize": 11.5, "fontWeight": "bold", "align": "center", "baseline": "middle", "color": "black"},
 "encoding": {
  "x": {"datum": {"year": 2008, "month": 9, "date": 20}, "type": "temporal"},
  "y": {"field": "v", "type": "quantitative"},
  "text": {"field": "t"}
 }},
{"data": {"values": [{"t": "www.ProRealTime.com"}]},
 "mark": {"type": "text", "fontSize": 12, "fontWeight": "bold", "align": "left", "baseline": "alphabetic", "color": "black"},
 "encoding": {
  "x": {"datum": {"year": 2003, "month": 9, "date": 16}, "type": "temporal"},
  "y": {"datum": 57.15, "type": "quantitative"},
  "text": {"field": "t"}
 }},
{"data": {"values": [{"t": "ITX - INDITEX"}]},
 "mark": {"type": "text", "fontSize": 11, "fontWeight": "bold", "align": "left", "baseline": "alphabetic", "color": "black"},
 "encoding": {
  "x": {"datum": {"year": 2005, "month": 10, "date": 31}, "type": "temporal"},
  "y": {"datum": 57.27, "type": "quantitative"},
  "text": {"field": "t"}
 }},
{"data": {"values": [{"t": "31,00 (-0,96%)"}]},
 "mark": {"type": "text", "fontSize": 11, "fontWeight": "bold", "align": "left", "baseline": "alphabetic", "color": "black"},
 "encoding": {
  "x": {"datum": {"year": 2006, "month": 5, "date": 22}, "type": "temporal"},
  "y": {"datum": 57.27, "type": "quantitative"},
  "text": {"field": "t"}
 }},
{"data": {"values": [{"t": "Semanal\u00a0 10 Jun"}]},
 "mark": {"type": "text", "fontSize": 11, "fontWeight": "bold", "align": "left", "baseline": "alphabetic", "color": "black"},
 "encoding": {
  "x": {"datum": {"year": 2006, "month": 12, "date": 28}, "type": "temporal"},
  "y": {"datum": 57.27, "type": "quantitative"},
  "text": {"field": "t"}
 }},
{"data": {"values": [{"t": "Precio"}]},
 "mark": {"type": "text", "font": "DejaVu Sans", "fontSize": 9.5, "align": "left", "baseline": "alphabetic", "color": "white"},
 "encoding": {
  "x": {"datum": {"year": 2003, "month": 9, "date": 9}, "type": "temporal"},
  "y": {"datum": 56.04, "type": "quantitative"},
  "text": {"field": "t"}
 }},
{"data": {"values": [{"t": "MM (Exponencial 50)"}]},
 "mark": {"type": "text", "font": "DejaVu Sans", "fontSize": 9.5, "align": "left", "baseline": "alphabetic", "color": "#ff3300"},
 "encoding": {
  "x": {"datum": {"year": 2003, "month": 12, "date": 25}, "type": "temporal"},
  "y": {"datum": 56.04, "type": "quantitative"},
  "text": {"field": "t"}
 }},
{"data": {"values": [{"t": "MM (Exponencial 14)"}]},
 "mark": {"type": "text", "font": "DejaVu Sans", "fontSize": 9.5, "align": "left", "baseline": "alphabetic", "color": "#ffff00"},
 "encoding": {
  "x": {"datum": {"year": 2004, "month": 9, "date": 27}, "type": "temporal"},
  "y": {"datum": 56.04, "type": "quantitative"},
  "text": {"field": "t"}
 }},
{"data": {"values": [{"t": "MM (Exponencial 30)"}]},
 "mark": {"type": "text", "font": "DejaVu Sans", "fontSize": 9.5, "align": "left", "baseline": "alphabetic", "color": "#00ff00"},
 "encoding": {
  "x": {"datum": {"year": 2005, "month": 7, "date": 2}, "type": "temporal"},
  "y": {"datum": 56.04, "type": "quantitative"},
  "text": {"field": "t"}
 }},
{"data": {"values": [{"t": "© ProRealTime.com"}]},
 "mark": {"type": "text", "fontSize": 10.5, "align": "left", "baseline": "alphabetic", "color": "white"},
 "encoding": {
  "x": {"datum": {"year": 2003, "month": 9, "date": 6}, "type": "temporal"},
  "y": {"datum": 10.93, "type": "quantitative"},
  "text": {"field": "t"}
 }}
]
}
